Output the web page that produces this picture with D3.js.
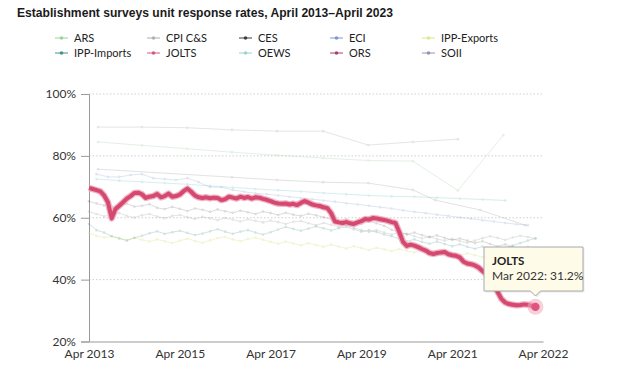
<!DOCTYPE html>
<html><head><meta charset="utf-8">
<script src="https://cdn.jsdelivr.net/npm/d3@7"></script>
<style>
html,body{margin:0;padding:0;background:#fff;}
svg{display:block;font-family:Lato,"Open Sans",sans-serif;}
</style></head>
<body><svg id="c" width="620" height="379"></svg>
<script>
// ---------- data ----------
const title = "Establishment surveys unit response rates, April 2013\u2013April 2023";
const seriesNames = ["ARS","CPI C&S","CES","ECI","IPP-Exports","IPP-Imports","JOLTS","OEWS","ORS","SOII"];
const seriesColors = ["#8fd18f","#a9a9a9","#2b2b2b","#6f8fc9","#d9e67f","#2f8a7e","#d6466f","#8fd0d0","#a02f66","#8c8aa6"];
const xTickMonths = [0,24,48,72,96,120];   // months since Apr 2013
const xTickLabels = ["Apr 2013","Apr 2015","Apr 2017","Apr 2019","Apr 2021","Apr 2022"];
const yTicks = [20,40,60,80,100];

// JOLTS, monthly from Apr 2013 (month 0)
const joltsValues = [69.6,69.3,68.9,68.5,67.2,65.0,59.8,62.8,63.9,65.0,66.2,67.0,68.0,68.1,67.6,66.4,66.8,67.0,67.7,66.6,
 67.0,67.8,66.8,67.0,67.5,68.6,69.4,68.4,67.2,66.6,66.4,66.6,66.3,66.5,66.4,65.7,66.0,66.8,66.5,66.2,
 66.8,66.4,66.7,66.2,66.6,66.5,66.1,65.8,65.4,64.9,64.6,64.5,64.6,64.3,64.5,64.1,64.8,65.4,64.9,64.3,
 64.0,63.8,63.4,63.1,61.5,58.8,58.5,58.3,58.6,58.2,58.0,58.5,58.9,59.6,59.4,59.9,59.8,59.5,59.3,59.0,
 58.6,58.3,55.4,52.2,50.9,51.3,51.0,50.5,49.9,49.4,48.6,48.3,48.6,48.8,48.9,48.2,47.9,47.7,47.2,45.8,
 45.2,45.0,44.6,43.9,42.8,41.8,40.6,39.2,36.0,33.8,32.6,32.1,31.9,31.7,31.8,32.0,31.9,31.6,31.2];

// bi-monthly readings (months 0,2,4,...) for the other monthly surveys
const cesValues = [65.3,64.6,64.0,63.6,64.2,64.5,63.6,63.9,64.4,63.2,62.8,63.5,62.9,62.2,63.0,62.6,61.9,62.7,62.1,61.6,
 62.3,61.8,61.2,62.0,61.5,60.9,61.6,61.0,60.6,61.3,60.8,60.2,59.6,58.9,59.5,58.7,58.1,58.8,58.2,57.4,
 56.1,55.3,54.6,55.2,54.4,53.7,54.3,53.5,52.8,53.3,52.6,51.8,52.4,51.5,50.8,51.4,50.6,49.9,50.5,49.8];
const cpiValues = [62.0,61.2,60.5,60.9,61.5,60.6,60.1,60.8,61.2,60.4,59.8,60.6,60.9,60.2,59.6,60.3,59.8,59.2,59.9,59.4,
 58.8,59.5,59.0,58.5,59.1,58.6,58.0,58.7,58.9,58.2,57.6,58.3,57.7,57.0,57.6,56.8,56.0,55.4,56.0,55.2,
 54.6,55.3,54.8,54.0,53.3,53.9,53.1,52.6,53.2,52.5,51.9,52.6,53.4,54.0,53.5,52.8,53.6,54.2,53.8,53.2];
const ippImpValues = [58.0,56.0,55.2,54.0,53.3,52.6,53.5,54.2,55.0,55.6,54.8,55.3,55.8,55.1,54.4,54.9,55.6,56.3,55.5,54.8,
 55.5,56.0,55.2,54.6,55.3,56.2,57.0,56.4,55.8,56.5,57.2,56.6,55.9,56.6,57.1,56.3,55.5,56.0,55.4,54.6,
 54.0,53.2,52.4,53.0,52.2,51.6,52.3,51.5,50.8,51.4,50.6,50.0,50.7,50.1,49.6,50.3,51.0,51.8,52.6,53.4];
const ippExpValues = [55.0,54.2,53.6,54.1,53.4,52.8,53.5,52.9,52.3,53.0,52.4,51.8,52.6,53.2,52.5,51.9,52.7,53.4,53.8,53.0,
 52.4,53.1,53.6,52.9,52.2,51.6,52.3,51.7,51.1,51.8,51.2,50.6,51.3,50.7,50.1,50.8,50.2,49.6,50.3,49.8,
 49.2,49.9,49.3,48.8,49.5,48.9,48.3,49.0,48.4,47.8,48.5,47.9,47.3,46.6,46.0,46.8,47.5,48.3,49.0,49.6];
// quarterly ECI (months 2,5,8,...)
const eciMonths = [2,5,8,11,14,17,20,23,26,29,32,35,38,41,44,47,50,53,56,59,62,65,68,71,74,77,80,83,86,89,92,95,98,101,104,107,110,113,116];
const eciValues = [74.1,73.2,73.2,73.8,74.1,72.8,72.5,72.2,72.8,71.5,69.9,69.9,69.0,68.4,67.9,67.6,67.2,66.8,66.4,66.0,65.6,65.2,64.7,64.3,
 63.9,63.4,63.0,62.4,61.9,61.5,61.0,60.6,60.1,59.7,59.2,58.8,58.3,57.9,57.6];
// semiannual OEWS
const oewsMonths = [2,8,14,20,26,32,38,44,50,56,62,68,74,80,86,92,98,104,110];
const oewsValues = [72.5,72.0,71.6,71.2,70.8,70.3,69.8,69.3,68.9,68.5,68.0,67.6,67.2,66.9,66.8,66.5,66.2,65.9,65.6];
// annual surveys
const soiiMonths = [2.4,14,26,37.8,49.7,61.9,73.8,85.6,97.5];
const soiiValues = [89.3,89.3,89.1,88.4,88.0,88.0,83.5,84.5,85.4];
const arsMonths = [2.4,14,26,37.8,49.7,61.9,73.8,85.6,97.5,109.5];
const arsValues = [84.5,83.4,82.3,81.2,80.2,79.3,78.5,78.3,68.8,86.7];
const orsMonths = [2.4,37.8,49.7,61.9,73.8,85.6,91.5,103.4,115.3];
const orsValues = [75.7,73.1,72.2,71.5,71.2,69.0,65.7,62.5,57.6];

const tipTitle = "JOLTS";
const tipText = "Mar 2022: 31.2%";

// ---------- drawing ----------
const svg = d3.select("#c");
const x = d3.scaleLinear().domain([0,120]).range([89,543]);
const y = d3.scaleLinear().domain([20,100]).range([341.5,94]);

svg.append("text").attr("x",17).attr("y",16.5)
  .attr("font-family","'Liberation Sans',Arial,sans-serif").attr("font-weight","bold")
  .attr("font-size",13.5).attr("fill","#1a1a1a")
  .attr("textLength",376).attr("lengthAdjust","spacingAndGlyphs").text(title);

// legend
const legX = [55,147,239,330,422], legY = [38,53];
seriesNames.forEach((n,i)=>{
  const g = svg.append("g").attr("transform",`translate(${legX[i%5]},${legY[Math.floor(i/5)]})`);
  g.append("line").attr("x1",0).attr("x2",13).attr("y1",0).attr("y2",0)
   .attr("stroke",seriesColors[i]).attr("stroke-width",1.5).attr("opacity",0.6);
  g.append("circle").attr("cx",6.5).attr("cy",0).attr("r",1.8).attr("fill",seriesColors[i]).attr("opacity",0.85);
  g.append("text").attr("x",19).attr("y",3.8).attr("font-size",11).attr("fill","#222").text(n);
});

// grid
const grid = svg.append("g");
yTicks.filter(v=>v>20).forEach(v=>{
  grid.append("line").attr("x1",89).attr("x2",543).attr("y1",y(v)).attr("y2",y(v))
    .attr("stroke","#cfcfcf").attr("stroke-dasharray","1.5,2");
});

// y axis
const yAxis = d3.axisLeft(y).tickValues(yTicks).tickFormat(d=>d+"%").tickSize(8).tickPadding(5);
const ya = svg.append("g").attr("transform","translate(89,0)").call(yAxis);
ya.select(".domain").attr("stroke","#9a9a9a");
ya.selectAll(".tick line").attr("stroke","#9a9a9a");
ya.selectAll("text").attr("font-size",12).attr("fill","#333").attr("font-family","Lato,sans-serif");

// x axis
const xAxis = d3.axisBottom(x).tickValues(xTickMonths).tickFormat((d,i)=>xTickLabels[i]).tickSize(0).tickPadding(8);
const xa = svg.append("g").attr("transform",`translate(0,${y(20)})`).call(xAxis);
xa.select(".domain").attr("stroke","#9a9a9a");
xa.selectAll("text").attr("font-size",12).attr("fill","#333").attr("font-family","Lato,sans-serif");

const line = d3.line().x(d=>x(d[0])).y(d=>y(d[1]));
function bg(months, vals, color, op){
  const pts = months.map((m,i)=>[m,vals[i]]);
  const g = svg.append("g").attr("opacity",op);
  g.append("path").attr("d",line(pts)).attr("fill","none").attr("stroke",color).attr("stroke-width",1);
  g.selectAll("circle").data(pts).join("circle").attr("cx",d=>x(d[0])).attr("cy",d=>y(d[1])).attr("r",1.3).attr("fill",color);
}
const biMonths = d3.range(0,120,2);
bg(biMonths, ippExpValues, seriesColors[4], 0.35);
bg(biMonths, ippImpValues, seriesColors[5], 0.22);
bg(biMonths, cpiValues, seriesColors[1], 0.3);
bg(biMonths, cesValues, seriesColors[2], 0.16);
bg(eciMonths, eciValues, seriesColors[3], 0.22);
bg(oewsMonths, oewsValues, seriesColors[7], 0.35);
bg(orsMonths, orsValues, seriesColors[1], 0.32);
bg(arsMonths, arsValues, "#a8cfa8", 0.3);
bg(soiiMonths, soiiValues, seriesColors[9], 0.22);

// JOLTS highlighted
const jpts = joltsValues.map((v,i)=>[i,v]);
svg.append("path").attr("d",line(jpts)).attr("fill","none").attr("stroke","#f0b3c4").attr("stroke-width",6.5).attr("stroke-linejoin","round");
svg.append("path").attr("d",line(jpts)).attr("fill","none").attr("stroke","#d5486f").attr("stroke-width",4).attr("stroke-linejoin","round");
const last = jpts[jpts.length-1];
svg.append("circle").attr("cx",x(last[0])).attr("cy",y(last[1])).attr("r",8).attr("fill","#f2a9bd").attr("opacity",0.55);
svg.append("circle").attr("cx",x(last[0])).attr("cy",y(last[1])).attr("r",4.2).attr("fill","#e0557d");

// tooltip
const tx = 484, ty = 247, tw = 99, th = 44, ax = x(last[0]);
const tp = `M${tx},${ty} H${tx+tw} V${ty+th} H${ax+5} L${ax},${ty+th+5} L${ax-5},${ty+th} H${tx} Z`;
svg.append("path").attr("d",tp).attr("transform","translate(1.5,1.5)").attr("fill","#000").attr("opacity",0.08);
svg.append("path").attr("d",tp).attr("fill","#fffbe9").attr("stroke","#a8a8a8").attr("stroke-width",1);
svg.append("text").attr("x",tx+8).attr("y",ty+18).attr("font-size",11.5).attr("font-weight","bold").attr("fill","#222").text(tipTitle);
svg.append("text").attr("x",tx+8).attr("y",ty+33).attr("font-size",12).attr("fill","#333").text(tipText);
</script></body></html>
